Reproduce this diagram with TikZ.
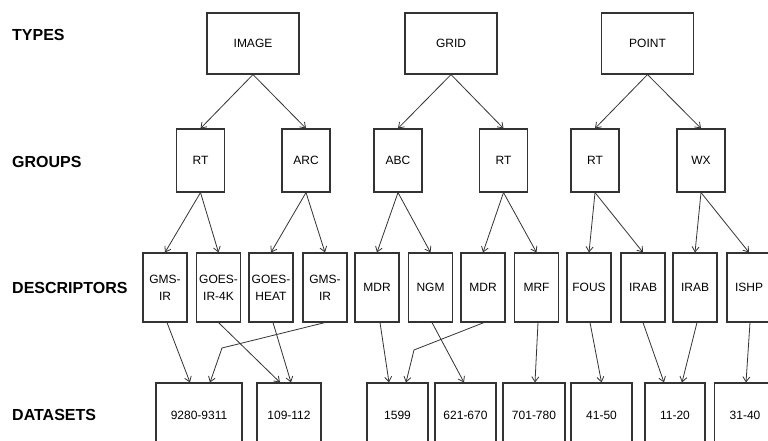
\documentclass[tikz,border=0pt]{standalone}
\usepackage{fontspec}
\setmainfont{Liberation Sans}
\usetikzlibrary{arrows.meta}
\begin{document}
\begin{tikzpicture}[x=1pt,y=-1pt,
  box/.style={draw=black!80,line width=1.1pt,fill=white,inner sep=0pt,
    font=\fontsize{12}{17}\selectfont,align=center},
  typebox/.style={box,minimum width=92pt,minimum height=61pt},
  grpbox/.style={box,minimum width=48pt,minimum height=63pt},
  descbox/.style={box,minimum width=44pt,minimum height=69pt},
  databox/.style={box,minimum height=64pt},
  lab/.style={anchor=west,inner sep=0pt,font=\fontsize{16}{18}\selectfont\bfseries},
  arr/.style={draw=black!80,line width=0.8pt,-{Straight Barb[length=5pt,width=7pt]}}]
\useasboundingbox (0,0) rectangle (768,441);
\clip (0,0) rectangle (768,441);
\fill[white] (0,0) rectangle (768,441);

% row labels
\node[lab] (lt) at (12,35) {TYPES};
\node[lab] (lg) at (12,162) {GROUPS};
\node[lab] (ld) at (12,288) {DESCRIPTORS};
\node[lab] (lds) at (12,415) {DATASETS};

% types
\node[typebox] (image) at (253,43.5) {IMAGE};
\node[typebox] (grid) at (451,43.5) {GRID};
\node[typebox] (point) at (647.5,43.5) {POINT};

% groups
\node[grpbox] (rt1) at (200.5,160.5) {RT};
\node[grpbox] (arc) at (306,160.5) {ARC};
\node[grpbox] (abc) at (398,160.5) {ABC};
\node[grpbox] (rt2) at (503.5,160.5) {RT};
\node[grpbox] (rt3) at (595,160.5) {RT};
\node[grpbox] (wx) at (701,160.5) {WX};

% descriptors
\node[descbox] (gmsa) at (165,287.5) {GMS-\\IR};
\node[descbox] (goes4k) at (218.5,287.5) {GOES-\\IR-4K};
\node[descbox] (goesh) at (271,287.5) {GOES-\\HEAT};
\node[descbox] (gmsb) at (325,287.5) {GMS-\\IR};
\node[descbox] (mdra) at (377,287.5) {MDR};
\node[descbox] (ngm) at (430.5,287.5) {NGM};
\node[descbox] (mdrb) at (483,287.5) {MDR};
\node[descbox] (mrf) at (536.5,287.5) {MRF};
\node[descbox] (fous) at (589,287.5) {FOUS};
\node[descbox] (iraba) at (643,287.5) {IRAB};
\node[descbox] (irabb) at (695,287.5) {IRAB};
\node[descbox] (ishp) at (749,287.5) {ISHP};

% datasets
\node[databox,minimum width=86pt] (d9280) at (199,415) {9280-9311};
\node[databox,minimum width=64pt] (d109) at (289,415) {109-112};
\node[databox,minimum width=61pt] (d1599) at (397.5,415) {1599};
\node[databox,minimum width=61pt] (d621) at (465.5,415) {621-670};
\node[databox,minimum width=62pt] (d701) at (534,415) {701-780};
\node[databox,minimum width=61pt] (d41) at (601.5,415) {41-50};
\node[databox,minimum width=60pt] (d11) at (675,415) {11-20};
\node[databox,minimum width=61pt] (d31) at (745,415) {31-40};

% types -> groups
\draw[arr] (image.south) -- (rt1.north);
\draw[arr] (image.south) -- (arc.north);
\draw[arr] (grid.south) -- (abc.north);
\draw[arr] (grid.south) -- (rt2.north);
\draw[arr] (point.south) -- (rt3.north);
\draw[arr] (point.south) -- (wx.north);

% groups -> descriptors
\draw[arr] (rt1.south) -- (gmsa.north);
\draw[arr] (rt1.south) -- (goes4k.north);
\draw[arr] (arc.south) -- (goesh.north);
\draw[arr] (arc.south) -- (gmsb.north);
\draw[arr] (abc.south) -- (mdra.north);
\draw[arr] (abc.south) -- (ngm.north);
\draw[arr] (rt2.south) -- (mdrb.north);
\draw[arr] (rt2.south) -- (mrf.north);
\draw[arr] (rt3.south) -- (fous.north);
\draw[arr] (rt3.south) -- (iraba.north);
\draw[arr] (wx.south) -- (irabb.north);
\draw[arr] (wx.south) -- (ishp.north);

% descriptors -> datasets
\draw[arr] ([xshift=2pt]gmsa.south) -- ([xshift=-9pt]d9280.north);
\draw[arr] (goes4k.south) -- ([xshift=-9pt]d109.north);
\draw[arr] ([xshift=2pt]goesh.south) -- ([xshift=2pt]d109.north);
\draw[arr] (gmsb.south) -- (222,348) -- ([xshift=11pt]d9280.north);
\draw[arr] ([xshift=3pt]mdra.south) -- ([xshift=-8.5pt]d1599.north);
\draw[arr] ([xshift=1.5pt]ngm.south) -- ([xshift=-1.5pt]d621.north);
\draw[arr] ([xshift=1pt]mdrb.south) -- (414,350) -- ([xshift=8.5pt]d1599.north);
\draw[arr] ([xshift=1.5pt]mrf.south) -- ([xshift=1pt]d701.north);
\draw[arr] ([xshift=1pt]fous.south) -- (d41.north);
\draw[arr] (iraba.south) -- ([xshift=-11pt]d11.north);
\draw[arr] ([xshift=2pt]irabb.south) -- ([xshift=7pt]d11.north);
\draw[arr] ([xshift=1pt]ishp.south) -- ([xshift=1pt]d31.north);
\end{tikzpicture}
\end{document}
